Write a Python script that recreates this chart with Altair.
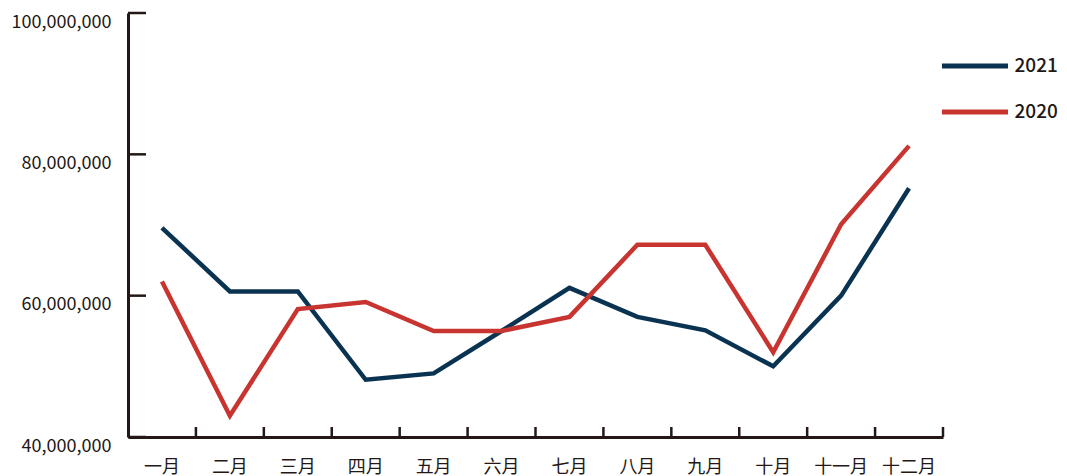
import altair as alt
import pandas as pd

months = ["一月", "二月", "三月", "四月", "五月", "六月", "七月", "八月", "九月", "十月", "十一月", "十二月"]
series_2021 = [69.6, 60.6, 60.6, 48.1, 49.0, 55.0, 61.1, 57.0, 55.1, 50.0, 60.0, 75.2]
series_2020 = [62.0, 43.0, 58.1, 59.1, 55.0, 55.0, 57.0, 67.2, 67.2, 52.0, 70.1, 81.2]
y_ticks = [40000000, 60000000, 80000000, 100000000]
years = ["2021", "2020"]
colors = ["#0a3352", "#c8342f"]

rows = []
for m, a, b in zip(months, series_2021, series_2020):
    rows.append({"month": m, "year": "2021", "value": a * 1e6})
    rows.append({"month": m, "year": "2020", "value": b * 1e6})
df = pd.DataFrame(rows)

FONT = "Noto Sans CJK SC"
AX = "#231815"
W, H = 815, 424

xscale = alt.Scale(type="band", domain=months, paddingInner=0, paddingOuter=0)
yscale = alt.Scale(domain=[40000000, 100000000], nice=False, zero=False)

lines = alt.Chart(df).mark_line(strokeWidth=4.5, strokeJoin="miter").encode(
    x=alt.X("month:N", scale=xscale, bandPosition=0.5,
            axis=alt.Axis(title=None, labelAngle=0, labelFont=FONT, labelFontSize=18,
                          labelColor=AX, labelPadding=21, ticks=False, tickSize=0,
                          domainColor=AX, domainWidth=3, grid=False)),
    y=alt.Y("value:Q", scale=yscale,
            axis=alt.Axis(title=None, values=y_ticks, format=",d", labelFont=FONT,
                          labelFontSize=18, labelColor=AX, labelPadding=17,
                          labelBaseline="top", labelFlush=False, ticks=False,
                          tickSize=0, domainColor=AX, domainWidth=3, grid=False)),
    color=alt.Color("year:N", scale=alt.Scale(domain=years, range=colors),
                    legend=alt.Legend(title=None, orient="none", legendX=811.5, legendY=17.5,
                                      symbolType="stroke", symbolSize=4356,
                                      symbolStrokeWidth=5, labelFont=FONT,
                                      labelFontSize=19, labelFontWeight=500,
                                      labelColor=AX, labelOffset=4, rowPadding=-40)),
)

ytick_df = pd.DataFrame({"t": y_ticks})
yticks = alt.Chart(ytick_df).mark_rule(color=AX, strokeWidth=2.5).encode(
    y=alt.Y("t:Q", scale=yscale),
    x=alt.value(0),
    x2=alt.value(18),
)

xtick_df = pd.DataFrame({"month": months})
xticks = alt.Chart(xtick_df).mark_rule(color=AX, strokeWidth=2.5).encode(
    x=alt.X("month:N", scale=xscale, bandPosition=1),
    y=alt.value(H - 10),
    y2=alt.value(H),
)

chart = alt.layer(lines, yticks, xticks).properties(
    width=W, height=H, background="white",
    padding={"left": 3, "top": 3, "right": 0, "bottom": 0},
).configure_view(stroke=None)

chart.save("out.html", embed_options={"renderer": "svg", "actions": False})
